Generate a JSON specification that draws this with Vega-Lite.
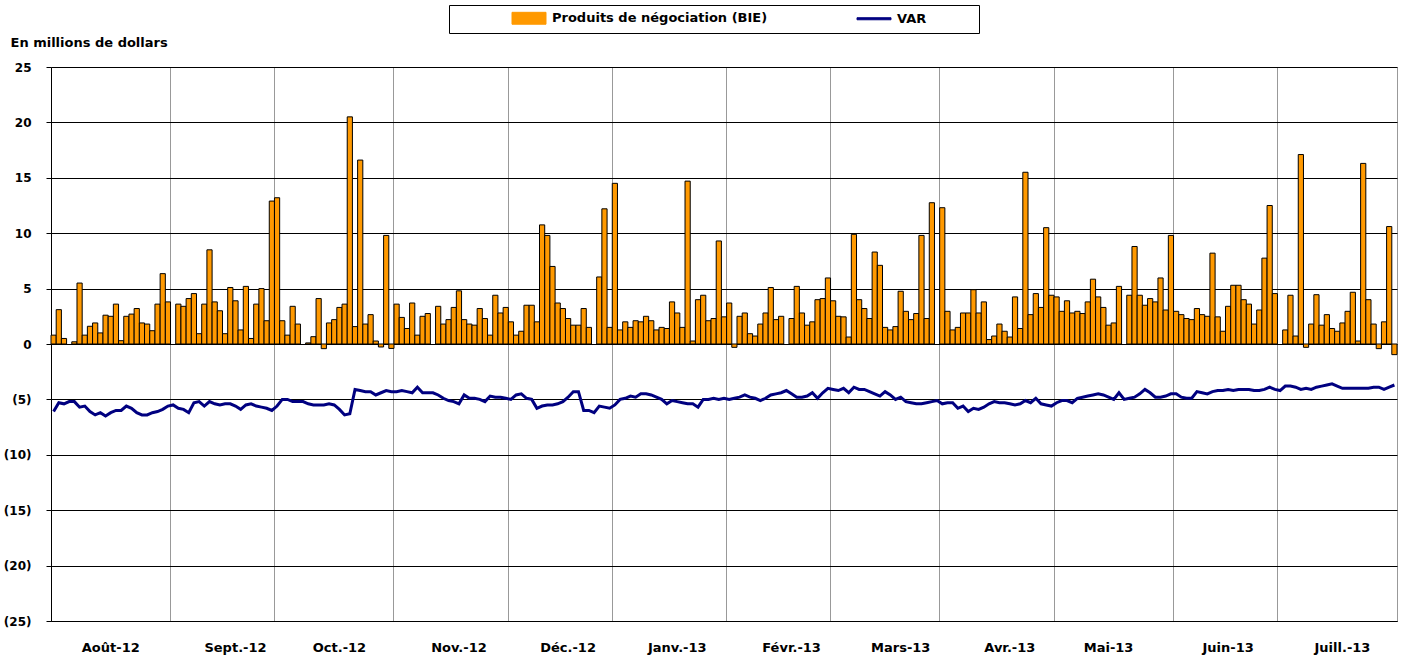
{
"$schema": "https://vega.github.io/schema/vega-lite/v6.json",
"width": 1346, "height": 554,
"autosize": "none",
"padding": {"left": 51, "top": 67, "right": 6, "bottom": 37},
"background": "white",
"config": {"font": "DejaVu Sans", "view": {"stroke": "#999999", "strokeWidth": 1}},
"data": {"values": [
{"date":"2012-08-01","pnl":0.8,"var":-6.1},{"date":"2012-08-02","pnl":3.1,"var":-5.3},{"date":"2012-08-03","pnl":0.5,"var":-5.4},{"date":"2012-08-06","pnl":null,"var":-5.2},{"date":"2012-08-07","pnl":0.2,"var":-5.2},{"date":"2012-08-08","pnl":5.5,"var":-5.7},{"date":"2012-08-09","pnl":0.8,"var":-5.6},{"date":"2012-08-10","pnl":1.6,"var":-6.1},{"date":"2012-08-13","pnl":1.9,"var":-6.4},{"date":"2012-08-14","pnl":1.0,"var":-6.2},{"date":"2012-08-15","pnl":2.6,"var":-6.5},{"date":"2012-08-16","pnl":2.5,"var":-6.2},{"date":"2012-08-17","pnl":3.6,"var":-6.0},{"date":"2012-08-20","pnl":0.3,"var":-6.0},{"date":"2012-08-21","pnl":2.5,"var":-5.6},{"date":"2012-08-22","pnl":2.7,"var":-5.8},{"date":"2012-08-23","pnl":3.2,"var":-6.2},{"date":"2012-08-24","pnl":1.9,"var":-6.4},{"date":"2012-08-27","pnl":1.8,"var":-6.4},{"date":"2012-08-28","pnl":1.2,"var":-6.2},{"date":"2012-08-29","pnl":3.6,"var":-6.1},{"date":"2012-08-30","pnl":6.35,"var":-5.9},{"date":"2012-08-31","pnl":3.8,"var":-5.6},
{"date":"2012-09-03","pnl":null,"var":-5.5},{"date":"2012-09-04","pnl":3.6,"var":-5.8},{"date":"2012-09-05","pnl":3.4,"var":-5.9},{"date":"2012-09-06","pnl":4.1,"var":-6.2},{"date":"2012-09-07","pnl":4.55,"var":-5.3},{"date":"2012-09-10","pnl":0.93,"var":-5.2},{"date":"2012-09-11","pnl":3.6,"var":-5.6},{"date":"2012-09-12","pnl":8.5,"var":-5.2},{"date":"2012-09-13","pnl":3.8,"var":-5.4},{"date":"2012-09-14","pnl":3.0,"var":-5.5},{"date":"2012-09-17","pnl":0.93,"var":-5.4},{"date":"2012-09-18","pnl":5.1,"var":-5.4},{"date":"2012-09-19","pnl":3.9,"var":-5.6},{"date":"2012-09-20","pnl":1.27,"var":-5.9},{"date":"2012-09-21","pnl":5.2,"var":-5.5},{"date":"2012-09-24","pnl":0.5,"var":-5.4},{"date":"2012-09-25","pnl":3.6,"var":-5.6},{"date":"2012-09-26","pnl":5.0,"var":-5.7},{"date":"2012-09-27","pnl":2.1,"var":-5.8},{"date":"2012-09-28","pnl":12.9,"var":-6.0},
{"date":"2012-10-01","pnl":13.2,"var":-5.6},{"date":"2012-10-02","pnl":2.1,"var":-5.0},{"date":"2012-10-03","pnl":0.8,"var":-5.0},{"date":"2012-10-04","pnl":3.4,"var":-5.2},{"date":"2012-10-05","pnl":1.8,"var":-5.2},{"date":"2012-10-08","pnl":null,"var":-5.2},{"date":"2012-10-09","pnl":0.1,"var":-5.4},{"date":"2012-10-10","pnl":0.66,"var":-5.5},{"date":"2012-10-11","pnl":4.1,"var":-5.5},{"date":"2012-10-12","pnl":-0.42,"var":-5.5},{"date":"2012-10-15","pnl":1.9,"var":-5.4},{"date":"2012-10-16","pnl":2.2,"var":-5.5},{"date":"2012-10-17","pnl":3.3,"var":-5.9},{"date":"2012-10-18","pnl":3.6,"var":-6.4},{"date":"2012-10-19","pnl":20.5,"var":-6.3},{"date":"2012-10-22","pnl":1.57,"var":-4.1},{"date":"2012-10-23","pnl":16.6,"var":-4.2},{"date":"2012-10-24","pnl":1.8,"var":-4.3},{"date":"2012-10-25","pnl":2.65,"var":-4.3},{"date":"2012-10-26","pnl":0.27,"var":-4.6},{"date":"2012-10-29","pnl":-0.27,"var":-4.4},{"date":"2012-10-30","pnl":9.8,"var":-4.2},{"date":"2012-10-31","pnl":-0.4,"var":-4.3},
{"date":"2012-11-01","pnl":3.6,"var":-4.3},{"date":"2012-11-02","pnl":2.4,"var":-4.2},{"date":"2012-11-05","pnl":1.4,"var":-4.3},{"date":"2012-11-06","pnl":3.7,"var":-4.4},{"date":"2012-11-07","pnl":0.8,"var":-3.9},{"date":"2012-11-08","pnl":2.5,"var":-4.4},{"date":"2012-11-09","pnl":2.75,"var":-4.4},{"date":"2012-11-12","pnl":null,"var":-4.4},{"date":"2012-11-13","pnl":3.4,"var":-4.6},{"date":"2012-11-14","pnl":1.8,"var":-4.9},{"date":"2012-11-15","pnl":2.2,"var":-5.1},{"date":"2012-11-16","pnl":3.3,"var":-5.2},{"date":"2012-11-19","pnl":4.8,"var":-5.4},{"date":"2012-11-20","pnl":2.2,"var":-4.6},{"date":"2012-11-21","pnl":1.8,"var":-4.9},{"date":"2012-11-22","pnl":1.7,"var":-4.9},{"date":"2012-11-23","pnl":3.2,"var":-5.0},{"date":"2012-11-26","pnl":2.3,"var":-5.2},{"date":"2012-11-27","pnl":0.8,"var":-4.7},{"date":"2012-11-28","pnl":4.4,"var":-4.8},{"date":"2012-11-29","pnl":2.8,"var":-4.8},{"date":"2012-11-30","pnl":3.3,"var":-4.9},
{"date":"2012-12-03","pnl":2.0,"var":-5.0},{"date":"2012-12-04","pnl":0.8,"var":-4.6},{"date":"2012-12-05","pnl":1.15,"var":-4.5},{"date":"2012-12-06","pnl":3.5,"var":-4.9},{"date":"2012-12-07","pnl":3.5,"var":-5.0},{"date":"2012-12-10","pnl":2.0,"var":-5.8},{"date":"2012-12-11","pnl":10.75,"var":-5.6},{"date":"2012-12-12","pnl":9.8,"var":-5.5},{"date":"2012-12-13","pnl":7.0,"var":-5.5},{"date":"2012-12-14","pnl":3.7,"var":-5.4},{"date":"2012-12-17","pnl":3.2,"var":-5.2},{"date":"2012-12-18","pnl":2.3,"var":-4.8},{"date":"2012-12-19","pnl":1.7,"var":-4.3},{"date":"2012-12-20","pnl":1.7,"var":-4.3},{"date":"2012-12-21","pnl":3.2,"var":-6.0},{"date":"2012-12-24","pnl":1.5,"var":-6.0},{"date":"2012-12-25","pnl":null,"var":-6.2},{"date":"2012-12-27","pnl":6.05,"var":-5.6},{"date":"2012-12-28","pnl":12.2,"var":-5.7},{"date":"2012-12-31","pnl":1.5,"var":-5.8},
{"date":"2013-01-02","pnl":14.5,"var":-5.5},{"date":"2013-01-03","pnl":1.27,"var":-5.0},{"date":"2013-01-04","pnl":2.0,"var":-4.9},{"date":"2013-01-07","pnl":1.5,"var":-4.7},{"date":"2013-01-08","pnl":2.1,"var":-4.8},{"date":"2013-01-09","pnl":2.0,"var":-4.5},{"date":"2013-01-10","pnl":2.5,"var":-4.5},{"date":"2013-01-11","pnl":2.1,"var":-4.6},{"date":"2013-01-14","pnl":1.27,"var":-4.8},{"date":"2013-01-15","pnl":1.5,"var":-5.0},{"date":"2013-01-16","pnl":1.4,"var":-5.4},{"date":"2013-01-17","pnl":3.8,"var":-5.1},{"date":"2013-01-18","pnl":2.8,"var":-5.2},{"date":"2013-01-21","pnl":1.5,"var":-5.3},{"date":"2013-01-22","pnl":14.7,"var":-5.4},{"date":"2013-01-23","pnl":0.27,"var":-5.4},{"date":"2013-01-24","pnl":4.0,"var":-5.7},{"date":"2013-01-25","pnl":4.4,"var":-5.0},{"date":"2013-01-28","pnl":2.1,"var":-5.0},{"date":"2013-01-29","pnl":2.3,"var":-4.9},{"date":"2013-01-30","pnl":9.3,"var":-5.0},{"date":"2013-01-31","pnl":2.45,"var":-4.9},
{"date":"2013-02-01","pnl":3.7,"var":-5.0},{"date":"2013-02-04","pnl":-0.3,"var":-4.9},{"date":"2013-02-05","pnl":2.5,"var":-4.8},{"date":"2013-02-06","pnl":2.8,"var":-4.6},{"date":"2013-02-07","pnl":0.93,"var":-4.8},{"date":"2013-02-08","pnl":0.72,"var":-4.9},{"date":"2013-02-11","pnl":1.8,"var":-5.1},{"date":"2013-02-12","pnl":2.8,"var":-4.9},{"date":"2013-02-13","pnl":5.1,"var":-4.6},{"date":"2013-02-14","pnl":2.2,"var":-4.5},{"date":"2013-02-15","pnl":2.5,"var":-4.4},{"date":"2013-02-18","pnl":null,"var":-4.2},{"date":"2013-02-19","pnl":2.3,"var":-4.5},{"date":"2013-02-20","pnl":5.2,"var":-4.8},{"date":"2013-02-21","pnl":2.8,"var":-4.8},{"date":"2013-02-22","pnl":1.7,"var":-4.7},{"date":"2013-02-25","pnl":2.0,"var":-4.4},{"date":"2013-02-26","pnl":4.0,"var":-4.9},{"date":"2013-02-27","pnl":4.1,"var":-4.4},{"date":"2013-02-28","pnl":5.96,"var":-4.0},
{"date":"2013-03-01","pnl":3.9,"var":-4.1},{"date":"2013-03-04","pnl":2.5,"var":-4.2},{"date":"2013-03-05","pnl":2.45,"var":-4.0},{"date":"2013-03-06","pnl":0.63,"var":-4.4},{"date":"2013-03-07","pnl":9.9,"var":-3.9},{"date":"2013-03-08","pnl":4.0,"var":-4.1},{"date":"2013-03-11","pnl":3.2,"var":-4.1},{"date":"2013-03-12","pnl":2.3,"var":-4.3},{"date":"2013-03-13","pnl":8.3,"var":-4.5},{"date":"2013-03-14","pnl":7.1,"var":-4.7},{"date":"2013-03-15","pnl":1.5,"var":-4.3},{"date":"2013-03-18","pnl":1.27,"var":-4.6},{"date":"2013-03-19","pnl":1.57,"var":-5.0},{"date":"2013-03-20","pnl":4.76,"var":-4.8},{"date":"2013-03-21","pnl":2.95,"var":-5.2},{"date":"2013-03-22","pnl":2.2,"var":-5.3},{"date":"2013-03-25","pnl":2.75,"var":-5.4},{"date":"2013-03-26","pnl":9.8,"var":-5.4},{"date":"2013-03-27","pnl":2.3,"var":-5.3},{"date":"2013-03-28","pnl":12.75,"var":-5.2},{"date":"2013-03-29","pnl":null,"var":-5.1},
{"date":"2013-04-01","pnl":12.3,"var":-5.4},{"date":"2013-04-02","pnl":2.95,"var":-5.3},{"date":"2013-04-03","pnl":1.27,"var":-5.3},{"date":"2013-04-04","pnl":1.5,"var":-5.8},{"date":"2013-04-05","pnl":2.8,"var":-5.6},{"date":"2013-04-08","pnl":2.8,"var":-6.1},{"date":"2013-04-09","pnl":4.9,"var":-5.8},{"date":"2013-04-10","pnl":2.8,"var":-5.9},{"date":"2013-04-11","pnl":3.8,"var":-5.7},{"date":"2013-04-12","pnl":0.4,"var":-5.4},{"date":"2013-04-15","pnl":0.72,"var":-5.2},{"date":"2013-04-16","pnl":1.8,"var":-5.3},{"date":"2013-04-17","pnl":1.15,"var":-5.3},{"date":"2013-04-18","pnl":0.63,"var":-5.4},{"date":"2013-04-19","pnl":4.25,"var":-5.5},{"date":"2013-04-22","pnl":1.4,"var":-5.4},{"date":"2013-04-23","pnl":15.5,"var":-5.1},{"date":"2013-04-24","pnl":2.65,"var":-5.3},{"date":"2013-04-25","pnl":4.55,"var":-4.9},{"date":"2013-04-26","pnl":3.3,"var":-5.4},{"date":"2013-04-29","pnl":10.5,"var":-5.5},{"date":"2013-04-30","pnl":4.4,"var":-5.6},
{"date":"2013-05-01","pnl":4.25,"var":-5.3},{"date":"2013-05-02","pnl":2.95,"var":-5.1},{"date":"2013-05-03","pnl":3.9,"var":-5.1},{"date":"2013-05-06","pnl":2.8,"var":-5.3},{"date":"2013-05-07","pnl":2.95,"var":-4.9},{"date":"2013-05-08","pnl":2.75,"var":-4.8},{"date":"2013-05-09","pnl":3.8,"var":-4.7},{"date":"2013-05-10","pnl":5.85,"var":-4.6},{"date":"2013-05-13","pnl":4.25,"var":-4.5},{"date":"2013-05-14","pnl":3.3,"var":-4.6},{"date":"2013-05-15","pnl":1.7,"var":-4.8},{"date":"2013-05-16","pnl":1.9,"var":-5.0},{"date":"2013-05-17","pnl":5.2,"var":-4.4},{"date":"2013-05-20","pnl":null,"var":-5.0},{"date":"2013-05-21","pnl":4.4,"var":-4.9},{"date":"2013-05-22","pnl":8.8,"var":-4.8},{"date":"2013-05-23","pnl":4.4,"var":-4.5},{"date":"2013-05-24","pnl":3.5,"var":-4.1},{"date":"2013-05-27","pnl":4.1,"var":-4.4},{"date":"2013-05-28","pnl":3.8,"var":-4.8},{"date":"2013-05-29","pnl":5.96,"var":-4.8},{"date":"2013-05-30","pnl":3.07,"var":-4.7},{"date":"2013-05-31","pnl":9.8,"var":-4.5},
{"date":"2013-06-03","pnl":2.95,"var":-4.5},{"date":"2013-06-04","pnl":2.65,"var":-4.8},{"date":"2013-06-05","pnl":2.3,"var":-4.9},{"date":"2013-06-06","pnl":2.2,"var":-4.9},{"date":"2013-06-07","pnl":3.2,"var":-4.3},{"date":"2013-06-10","pnl":2.65,"var":-4.4},{"date":"2013-06-11","pnl":2.5,"var":-4.5},{"date":"2013-06-12","pnl":8.2,"var":-4.3},{"date":"2013-06-13","pnl":2.45,"var":-4.2},{"date":"2013-06-14","pnl":1.15,"var":-4.2},{"date":"2013-06-17","pnl":3.4,"var":-4.1},{"date":"2013-06-18","pnl":5.3,"var":-4.2},{"date":"2013-06-19","pnl":5.3,"var":-4.1},{"date":"2013-06-20","pnl":4.0,"var":-4.1},{"date":"2013-06-21","pnl":3.6,"var":-4.1},{"date":"2013-06-24","pnl":1.8,"var":-4.2},{"date":"2013-06-25","pnl":3.07,"var":-4.2},{"date":"2013-06-26","pnl":7.75,"var":-4.1},{"date":"2013-06-27","pnl":12.5,"var":-3.9},{"date":"2013-06-28","pnl":4.55,"var":-4.1},
{"date":"2013-07-01","pnl":null,"var":-4.2},{"date":"2013-07-02","pnl":1.27,"var":-3.8},{"date":"2013-07-03","pnl":4.4,"var":-3.8},{"date":"2013-07-04","pnl":0.72,"var":-3.9},{"date":"2013-07-05","pnl":17.1,"var":-4.1},{"date":"2013-07-08","pnl":-0.3,"var":-4.0},{"date":"2013-07-09","pnl":1.8,"var":-4.1},{"date":"2013-07-10","pnl":4.45,"var":-3.9},{"date":"2013-07-11","pnl":1.7,"var":-3.8},{"date":"2013-07-12","pnl":2.65,"var":-3.7},{"date":"2013-07-15","pnl":1.4,"var":-3.6},{"date":"2013-07-16","pnl":1.15,"var":-3.8},{"date":"2013-07-17","pnl":1.9,"var":-4.0},{"date":"2013-07-18","pnl":2.95,"var":-4.0},{"date":"2013-07-19","pnl":4.67,"var":-4.0},{"date":"2013-07-22","pnl":0.27,"var":-4.0},{"date":"2013-07-23","pnl":16.3,"var":-4.0},{"date":"2013-07-24","pnl":4.0,"var":-4.0},{"date":"2013-07-25","pnl":1.8,"var":-3.9},{"date":"2013-07-26","pnl":-0.42,"var":-3.9},{"date":"2013-07-29","pnl":2.0,"var":-4.1},{"date":"2013-07-30","pnl":10.6,"var":-3.9},{"date":"2013-07-31","pnl":-0.96,"var":-3.7}
]},
"layer": [
{
"mark": {"type": "bar", "stroke": "#000000", "strokeWidth": 1},
"encoding": {
"x": {"field": "date", "type": "ordinal", "scale": {"paddingInner": 0, "paddingOuter": 0},
"axis": {"orient": "bottom", "title": null, "values": ["2012-09-03","2012-10-01","2012-11-01","2012-12-03","2013-01-02","2013-02-01","2013-03-01","2013-04-01","2013-05-01","2013-06-03","2013-07-01"], "bandPosition": 0, "grid": true, "gridColor": "#999999", "gridWidth": 1, "labels": false, "ticks": false, "domain": true, "domainColor": "#000000", "domainWidth": 1}},
"y": {"field": "pnl", "type": "quantitative", "stack": null, "scale": {"domain": [-25, 25], "nice": false, "zero": false},
"axis": {"values": [-25,-20,-15,-10,-5,0,5,10,15,20,25], "labelExpr": "datum.value < 0 ? '(' + abs(datum.value) + ')' : '' + datum.value", "grid": true, "gridColor": "#000000", "gridWidth": 1, "domainColor": "#000000", "tickColor": "#000000", "tickSize": 5, "labelPadding": 15, "labelFont": "DejaVu Sans", "labelFontWeight": "bold", "labelFontSize": 12, "labelColor": "#000000", "title": "En millions de dollars", "titleAngle": 0, "titleX": -41, "titleY": -25, "titleAlign": "left", "titleBaseline": "middle", "titleFont": "DejaVu Sans", "titleFontWeight": "bold", "titleFontSize": 13, "titleColor": "#000000"}},
"color": {"datum": "Produits de négociation (BIE)", "scale": {"domain": ["Produits de négociation (BIE)", "VAR"], "range": ["#FF9900", "#000080"]},
"legend": {"orient": "none", "legendX": 398, "legendY": -62, "direction": "horizontal", "title": null, "strokeColor": "#000000", "fillColor": "#ffffff", "padding": 6.5, "symbolSize": 1156, "symbolOffset": 67, "symbolType": "M-1,-0.35H1V0.35H-1Z", "symbolStrokeColor": "#000000", "symbolStrokeWidth": 1, "labelFont": "DejaVu Sans", "labelFontWeight": "bold", "labelFontSize": 13, "labelColor": "#000000", "labelOffset": 16.5, "labelLimit": 400, "columnPadding": 33, "labelExpr": "datum.label == 'VAR' ? 'VAR\u00a0\u00a0\u00a0\u00a0\u00a0\u00a0\u00a0\u00a0\u00a0\u00a0\u200b' : datum.label",
"encode": {"symbols": {"update": {"shape": {"signal": "datum.value == 'VAR' ? 'M-1,-0.06H1V0.06H-1Z' : 'M-1,-0.35H1V0.35H-1Z'"}, "fill": {"signal": "datum.value == 'VAR' ? '#000080' : '#FF9900'"}, "stroke": {"signal": "datum.value == 'VAR' ? '#000080' : '#000000'"}, "strokeWidth": {"signal": "datum.value ? 1 : 1"}, "opacity": {"value": 1}}}}}}
}
},
{
"mark": {"type": "line", "strokeWidth": 3},
"encoding": {
"x": {"field": "date", "type": "ordinal",
"axis": {"orient": "bottom", "title": null, "values": ["2012-08-16","2012-09-19","2012-10-17","2012-11-19","2012-12-18","2013-01-18","2013-02-19","2013-03-20","2013-04-18","2013-05-15","2013-06-17","2013-07-17"], "labelExpr": "['Août-12','Sept.-12','Oct.-12','Nov.-12','Déc.-12','Janv.-13','Févr.-13','Mars-13','Avr.-13','Mai-13','Juin-13','Juill.-13'][indexof(['2012-08-16','2012-09-19','2012-10-17','2012-11-19','2012-12-18','2013-01-18','2013-02-19','2013-03-20','2013-04-18','2013-05-15','2013-06-17','2013-07-17'], datum.value)]", "labelAngle": 0, "grid": false, "ticks": false, "domain": false, "labelPadding": 20, "labelFont": "DejaVu Sans", "labelFontWeight": "bold", "labelFontSize": 13, "labelColor": "#000000"}},
"y": {"field": "var", "type": "quantitative",
"axis": {"values": [-25,-20,-15,-10,-5,0,5,10,15,20,25], "labelExpr": "datum.value < 0 ? '(' + abs(datum.value) + ')' : '' + datum.value", "grid": true, "gridColor": "#000000", "gridWidth": 1, "domainColor": "#000000", "tickColor": "#000000", "tickSize": 5, "labelPadding": 15, "labelFont": "DejaVu Sans", "labelFontWeight": "bold", "labelFontSize": 12, "labelColor": "#000000", "title": "En millions de dollars", "titleAngle": 0, "titleX": -41, "titleY": -25, "titleAlign": "left", "titleBaseline": "middle", "titleFont": "DejaVu Sans", "titleFontWeight": "bold", "titleFontSize": 13, "titleColor": "#000000"}},
"color": {"datum": "VAR"}
}
}
],
"resolve": {"axis": {"x": "independent"}}
}
